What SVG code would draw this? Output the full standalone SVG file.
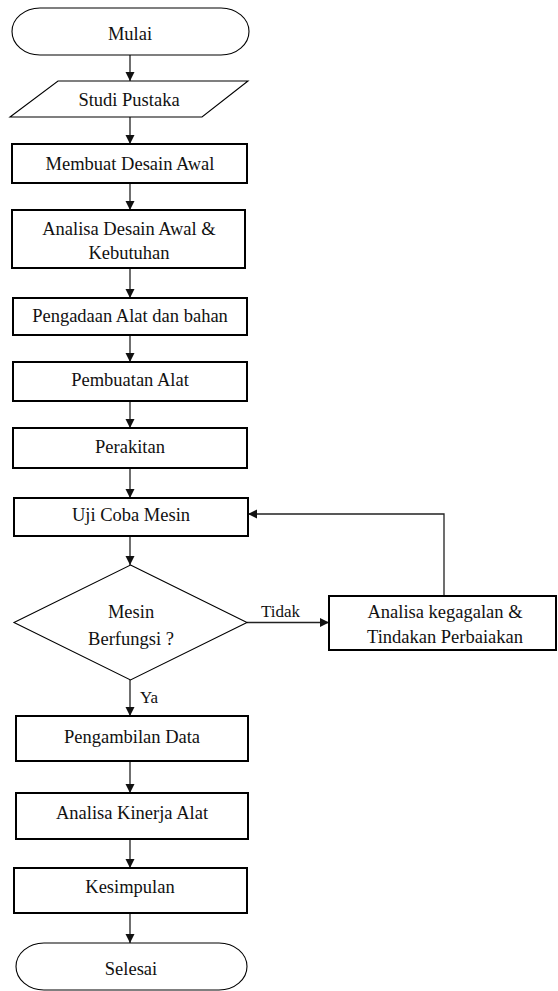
<svg xmlns="http://www.w3.org/2000/svg" width="558" height="991" viewBox="0 0 558 991">
<defs>
<marker id="ah" markerWidth="10" markerHeight="10" refX="9" refY="5" orient="auto" markerUnits="userSpaceOnUse">
<path d="M0,0.5 L9,5 L0,9.5 Z" fill="#111"/>
</marker>
<style>
.box{fill:#fff;stroke:#000;stroke-width:2}
.thin{fill:#fff;stroke:#000;stroke-width:1.1}
.t{font-family:"Liberation Serif","Times New Roman",serif;font-size:18.5px;fill:#111;text-anchor:middle}
.lbl{font-family:"Liberation Serif","Times New Roman",serif;font-size:17px;fill:#111}
.c{fill:none;stroke:#222;stroke-width:1.3;marker-end:url(#ah)}
</style>
</defs>
<rect width="558" height="991" fill="#fff"/>
<g id="connectors">
<line class="c" x1="130" y1="55" x2="130" y2="81"/>
<line class="c" x1="130" y1="117" x2="130" y2="144"/>
<line class="c" x1="130" y1="183" x2="130" y2="210"/>
<line class="c" x1="130" y1="268" x2="130" y2="298"/>
<line class="c" x1="130" y1="335" x2="130" y2="362"/>
<line class="c" x1="130" y1="401" x2="130" y2="428"/>
<line class="c" x1="130" y1="468" x2="130" y2="498"/>
<line class="c" x1="130" y1="536" x2="130" y2="565"/>
<line class="c" x1="130" y1="680" x2="130" y2="716"/>
<line class="c" x1="130" y1="761" x2="130" y2="793"/>
<line class="c" x1="130" y1="839" x2="130" y2="868"/>
<line class="c" x1="130" y1="913" x2="130" y2="943"/>
<line class="c" x1="247" y1="622.5" x2="329" y2="622.5"/>
<polyline class="c" points="444,596 444,514 248,514"/>
<text class="lbl" x="261" y="617">Tidak</text>
<text class="lbl" x="140" y="703">Ya</text>
</g>
<g id="mulai">
<rect class="thin" x="12" y="8" width="237" height="47" rx="28" ry="23.5"/>
<text class="t" x="130" y="40">Mulai</text>
</g>
<g id="studi">
<polygon class="thin" points="58,81 248,81 202,117 10,117"/>
<text class="t" x="129" y="106">Studi Pustaka</text>
</g>
<g id="membuat">
<rect class="box" x="12" y="144" width="235" height="39"/>
<text class="t" x="130" y="170">Membuat Desain Awal</text>
</g>
<g id="analisa-desain">
<rect class="box" x="12" y="210" width="233" height="58"/>
<text class="t" x="129" y="235">Analisa Desain Awal &amp;</text>
<text class="t" x="129" y="259">Kebutuhan</text>
</g>
<g id="pengadaan">
<rect class="box" x="13" y="298" width="234" height="37"/>
<text class="t" x="130" y="322">Pengadaan Alat dan bahan</text>
</g>
<g id="pembuatan">
<rect class="box" x="13" y="362" width="234" height="39"/>
<text class="t" x="130" y="386">Pembuatan Alat</text>
</g>
<g id="perakitan">
<rect class="box" x="13" y="428" width="234" height="40"/>
<text class="t" x="130" y="453">Perakitan</text>
</g>
<g id="uji">
<rect class="box" x="14" y="498" width="234" height="38"/>
<text class="t" x="131" y="521">Uji Coba Mesin</text>
</g>
<g id="decision">
<polygon class="thin" points="130.5,565 247,622.5 130.5,680 14,622.5"/>
<text class="t" x="131" y="618">Mesin</text>
<text class="t" x="131" y="645">Berfungsi ?</text>
</g>
<g id="analisa-kegagalan">
<rect class="box" x="329" y="596" width="227" height="54"/>
<text class="t" x="445" y="618">Analisa kegagalan &amp;</text>
<text class="t" x="445" y="643">Tindakan Perbaiakan</text>
</g>
<g id="pengambilan">
<rect class="box" x="16" y="716" width="232" height="45"/>
<text class="t" x="132" y="743">Pengambilan Data</text>
</g>
<g id="analisa-kinerja">
<rect class="box" x="16" y="793" width="232" height="46"/>
<text class="t" x="132" y="819">Analisa Kinerja Alat</text>
</g>
<g id="kesimpulan">
<rect class="box" x="14" y="868" width="233" height="45"/>
<text class="t" x="130" y="893">Kesimpulan</text>
</g>
<g id="selesai">
<rect class="thin" x="16" y="943" width="231" height="47" rx="28" ry="23.5"/>
<text class="t" x="131" y="975">Selesai</text>
</g>
</svg>
